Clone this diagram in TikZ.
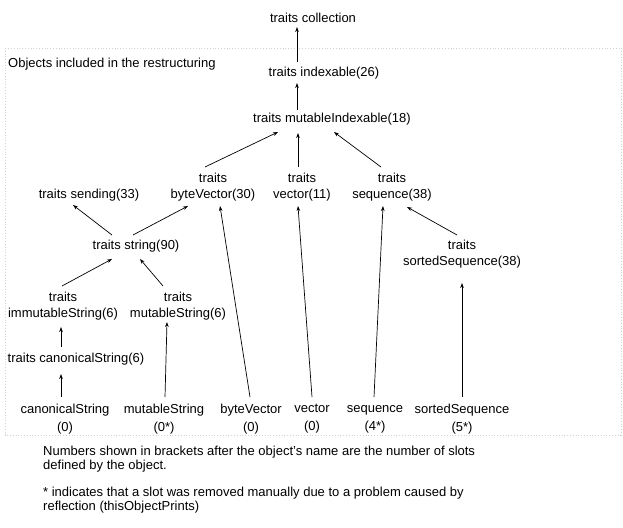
\documentclass[tikz,border=0pt]{standalone}
\usepackage{fontspec}
\setmainfont{Liberation Sans}
\usetikzlibrary{arrows.meta}
\begin{document}
\begin{tikzpicture}[x=1pt,y=-1pt,
  lbl/.style={font=\fontsize{13}{16}\selectfont, inner sep=0pt, align=center},
  bot/.style={font=\fontsize{13}{18}\selectfont, inner sep=0pt, align=center},
  note/.style={font=\fontsize{13}{14.5}\selectfont, inner sep=0pt, align=left, anchor=west},
  link/.style={line width=0.7pt, -{Stealth[length=5pt,width=3.6pt]}},
  frame/.style={draw=black!18, dotted, line width=0.8pt}]
\useasboundingbox (0,0) rectangle (623,527);
\draw[frame] (5,48) rectangle (621,435);
\node[lbl, anchor=west] (objs) at (8,64) {Objects included in the restructuring};
\node[lbl] (coll) at (313,18) {traits collection};
\node[lbl] (idx) at (324,73) {traits indexable(26)};
\node[lbl] (midx) at (332,119) {traits mutableIndexable(18)};
\node[lbl] (send) at (89,195) {traits sending(33)};
\node[lbl] (bv) at (213,187) {traits\\byteVector(30)};
\node[lbl] (vec) at (302,187) {traits\\vector(11)};
\node[lbl] (seq) at (392,187) {traits\\sequence(38)};
\node[lbl] (str) at (136,246) {traits string(90)};
\node[lbl] (sseq) at (462,254.5) {traits\\sortedSequence(38)};
\node[lbl] (imm) at (63,306) {traits\\immutableString(6)};
\node[lbl] (mstr) at (178,306) {traits\\mutableString(6)};
\node[lbl] (can) at (76,359) {traits canonicalString(6)};
\node[bot] (canB) at (65,419) {canonicalString\\(0)};
\node[bot] (mB) at (164,419) {mutableString\\(0*)};
\node[bot] (bvB) at (251,419) {byteVector\\(0)};
\node[bot] (vB) at (312,419) {vector\\(0)};
\node[bot] (sB) at (375,419) {sequence\\(4*)};
\node[bot] (ssB) at (462,419) {sortedSequence\\(5*)};
\node[note] (n1) at (43,459) {Numbers shown in brackets after the object's name are the number of slots\\defined by the object.};
\node[note] (n2) at (43,500) {* indicates that a slot was removed manually due to a problem caused by\\reflection (thisObjectPrints)};
\draw[link] ([shift={(-27,-11)}]idx.center) -- ([shift={(-16,9)}]coll.center);
\draw[link] ([shift={(-35,-9)}]midx.center) -- ([shift={(-27,10)}]idx.center);
\draw[link] ([shift={(-8,-20)}]bv.center) -- ([shift={(-54,13)}]midx.center);
\draw[link] ([shift={(-4,-20)}]vec.center) -- ([shift={(-34,14)}]midx.center);
\draw[link] ([shift={(-11,-20)}]seq.center) -- ([shift={(2,13)}]midx.center);
\draw[link] ([shift={(-24,-11)}]str.center) -- ([shift={(-16,10)}]send.center);
\draw[link] ([shift={(-3,-11)}]str.center) -- ([shift={(-25,19)}]bv.center);
\draw[link] ([shift={(-1,-20)}]imm.center) -- ([shift={(-24,13)}]str.center);
\draw[link] ([shift={(-15,-20)}]mstr.center) -- ([shift={(4,13)}]str.center);
\draw[link] ([shift={(-5,-19.5)}]sseq.center) -- ([shift={(15,20)}]seq.center);
\draw[link] ([shift={(-1,-22)}]bvB.center) -- ([shift={(7,19)}]bv.center);
\draw[link] ([shift={(0,-22)}]vB.center) -- ([shift={(-4,19)}]vec.center);
\draw[link] ([shift={(-1,-22)}]sB.center) -- ([shift={(-9,19)}]seq.center);
\draw[link] ([shift={(0,-22)}]ssB.center) -- ([shift={(0,28.5)}]sseq.center);
\draw[link] ([shift={(1,-22)}]mB.center) -- ([shift={(-11,16)}]mstr.center);
\draw[link] ([shift={(-15,-12)}]can.center) -- ([shift={(-2,21)}]imm.center);
\draw[link] ([shift={(-4,-22)}]canB.center) -- ([shift={(-15,15)}]can.center);
\end{tikzpicture}
\end{document}
